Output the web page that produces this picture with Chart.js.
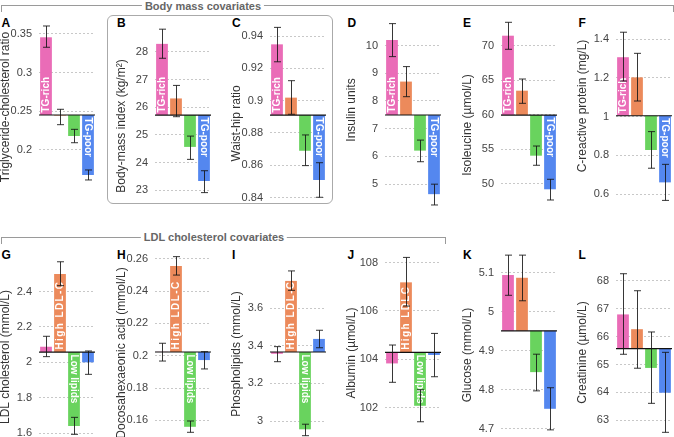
<!DOCTYPE html>
<html>
<head>
<meta charset="utf-8">
<script src="https://cdn.jsdelivr.net/npm/chart.js@4"></script>
<style>
  body { margin: 0; width: 674px; height: 437px; position: relative; overflow: hidden; background: #fff; font-family: "Liberation Sans", Arial, sans-serif; }
  canvas { position: absolute; }
  .bracket { position: absolute; border: 1px solid #9a9a9a; border-bottom: none; height: 6px; }
  .head { position: absolute; font-weight: bold; font-size: 11px; line-height: 12px; color: #666; background: #fff; padding: 0 3px; transform: translateX(-50%); white-space: nowrap; }
  .box { position: absolute; border: 1px solid #aaa; border-radius: 6px; }
  .letter { position: absolute; font-weight: bold; font-size: 12px; line-height: 12px; color: #000; }
</style>
</head>
<body>
<div class="bracket" style="left:1px;top:5px;width:671px"></div>
<div class="head" style="left:203px;top:0px">Body mass covariates</div>
<div class="bracket" style="left:1px;top:237px;width:443px"></div>
<div class="head" style="left:214px;top:231px">LDL cholesterol covariates</div>
<div class="box" style="left:107px;top:15px;width:224px;height:187px"></div>

<script>
// clusters (one bar each, same order in every panel)
const categories = ["TG-rich", "High LDL-C", "Low lipids", "TG-poor"];

const letters = ["A", "B", "C", "D", "E", "F", "G", "H", "I", "J", "K", "L"];
const yTitles = [
  "Triglyceride-cholesterol ratio", "Body-mass index (kg/m²)", "Waist-hip ratio",
  "Insulin units", "Isoleucine (µmol/L)", "C-reactive protein (mg/L)",
  "LDL cholesterol (mmol/L)", "Docosahexaeonic acid (mmol/L)", "Phospholipids (mmol/L)",
  "Albumin (µmol/L)", "Glucose (mmol/L)", "Creatinine (µmol/L)"
];

// population average (bars start here)
const baseline = [0.2452, 25.72, 0.8911, 7.495, 59.95, 1.005,
                  2.058, 0.2023, 3.3665, 104.29, 4.951, 65.57];

// cluster means
const means = [
  [0.3456, 0.2445, 0.2181, 0.1677],
  [28.29, 26.32, 24.57, 23.34],
  [0.9349, 0.9019, 0.869, 0.8509],
  [10.2, 8.70, 6.21, 4.64],
  [71.45, 63.48, 54.06, 49.19],
  [1.307, 1.203, 0.828, 0.661],
  [2.088, 2.499, 1.640, 2.0],
  [0.2024, 0.2555, 0.156, 0.1973],
  [3.357, 3.744, 2.956, 3.436],
  [103.83, 107.18, 102.08, 104.18],
  [5.094, 5.087, 4.845, 4.751],
  [66.80, 66.27, 64.88, 63.99]
];
// confidence intervals
const lower = [
  [0.3327, 0.2327, 0.2094, 0.1613],
  [27.77, 25.66, 24.12, 22.92],
  [0.9241, 0.8916, 0.8598, 0.8402],
  [9.6, 8.155, 5.81, 4.25],
  [69.48, 61.65, 52.67, 47.64],
  [1.184, 1.081, 0.734, 0.568],
  [2.032, 2.433, 1.593, 1.932],
  [0.1967, 0.2499, 0.1526, 0.1918],
  [3.315, 3.694, 2.922, 3.389],
  [103.05, 106.2, 101.42, 103.28],
  [5.042, 5.028, 4.797, 4.697],
  [65.37, 64.87, 63.61, 62.57]
];
const upper = [
  [0.3602, 0.2526, 0.2267, 0.1742],
  [28.82, 26.79, 24.96, 23.71],
  [0.9454, 0.9124, 0.8788, 0.8616],
  [10.79, 9.24, 6.59, 5.0],
  [73.39, 65.17, 55.46, 50.64],
  [1.436, 1.327, 0.923, 0.754],
  [2.147, 2.568, 1.689, 2.064],
  [0.2077, 0.2613, 0.1596, 0.2025],
  [3.395, 3.797, 2.983, 3.482],
  [104.59, 108.21, 102.74, 105.07],
  [5.145, 5.145, 4.891, 4.805],
  [68.26, 67.65, 66.17, 65.44]
];

const yTicks = [
  [0.2, 0.25, 0.3, 0.35],
  [23, 24, 25, 26, 27, 28],
  [0.84, 0.86, 0.88, 0.9, 0.92, 0.94],
  [5, 6, 7, 8, 9, 10],
  [50, 55, 60, 65, 70],
  [0.6, 0.8, 1, 1.2, 1.4],
  [1.6, 1.8, 2, 2.2, 2.4],
  [0.16, 0.18, 0.2, 0.22, 0.24, 0.26],
  [3, 3.2, 3.4, 3.6],
  [102, 104, 106, 108],
  [4.7, 4.8, 4.9, 5, 5.1],
  [63, 64, 65, 66, 67, 68]
];
const yMin = [0.1199, 22.22, 0.83108, 3.997, 45.899, 0.5081,
              1.578, 0.14969, 2.9151, 100.79, 4.6787, 62.402];
const yMax = [0.3744, 29.332, 0.95307, 11.101, 74.449, 1.5249,
              2.6458, 0.26665, 3.9188, 108.599, 5.1633, 69.183];

// text written inside bars
const tgText = ["TG-rich", null, null, "TG-poor"];
const ldlText = [null, "High LDL-C", "Low lipids", null];
const noText = [null, null, null, null];
const barText = [tgText, tgText, tgText, tgText, tgText, tgText,
                 ldlText, ldlText, ldlText, [null, "High LDLC", "Low lipids", null], noText, noText];

const colors = ["#ea6cb7", "#ec8a5b", "#69d35e", "#5487ef"];
const colX = [0, 115.5, 230.5, 346, 461.5, 577];
const titleY = [107, 126, 123.5, 110, 125, 106, 357, 353, 354, 353, 355, 352.5];
const FONT = '"Liberation Sans", Arial, sans-serif';

function makePanel(i) {
  const row = Math.floor(i / 6);
  const col = i % 6;
  const top = row ? 235 : 0;
  const h = row ? 202 : 222;

  const lab = document.createElement("div");
  lab.className = "letter";
  lab.textContent = letters[i];
  lab.style.left = (colX[col] + 1.5) + "px";
  lab.style.top = (row ? 249 : 17) + "px";
  document.body.appendChild(lab);

  const cv = document.createElement("canvas");
  cv.width = 97;
  cv.height = h;
  cv.style.left = colX[col] + "px";
  cv.style.top = top + "px";
  document.body.appendChild(cv);

  const extras = {
    id: "extras" + i,
    afterDatasetsDraw(chart) {
      const { ctx, chartArea } = chart;
      const y = chart.scales.y;
      const bars = chart.getDatasetMeta(0).data;
      const yb = y.getPixelForValue(baseline[i]);
      ctx.save();

      // labels in bars
      ctx.fillStyle = "#fff";
      ctx.font = "bold 10px " + FONT;
      ctx.textAlign = "left";
      ctx.textBaseline = "middle";
      bars.forEach((bar, k) => {
        const t = barText[i][k];
        if (!t) return;
        const up = means[i][k] > baseline[i];
        ctx.save();
        ctx.letterSpacing = t.startsWith("High") ? "1.4px" : "0px";
        ctx.translate(bar.x, yb + (up ? -2.5 : 2.5));
        ctx.rotate(up ? -Math.PI / 2 : Math.PI / 2);
        ctx.fillText(t, 0, 0.5);
        ctx.restore();
      });

      // baseline
      ctx.strokeStyle = "#111";
      ctx.lineWidth = 1.2;
      ctx.beginPath();
      ctx.moveTo(chartArea.left, yb);
      ctx.lineTo(chartArea.right, yb);
      ctx.stroke();

      // error bars
      ctx.strokeStyle = "rgba(20,20,20,0.85)";
      ctx.lineWidth = 1;
      bars.forEach((bar, k) => {
        const x = Math.round(bar.x) + 0.5;
        const y1 = y.getPixelForValue(lower[i][k]);
        const y2 = y.getPixelForValue(upper[i][k]);
        ctx.beginPath();
        ctx.moveTo(x, y1); ctx.lineTo(x, y2);
        ctx.moveTo(x - 3.5, y1); ctx.lineTo(x + 3.5, y1);
        ctx.moveTo(x - 3.5, y2); ctx.lineTo(x + 3.5, y2);
        ctx.stroke();
      });

      // y title
      ctx.fillStyle = "#333";
      ctx.font = "12px " + FONT;
      ctx.letterSpacing = "0px";
      ctx.textAlign = "center";
      ctx.translate(5.5, titleY[i] - top);
      ctx.rotate(-Math.PI / 2);
      ctx.fillText(yTitles[i], 0, 0);
      ctx.restore();
    }
  };

  new Chart(cv, {
    type: "bar",
    data: {
      labels: categories,
      datasets: [{
        data: means[i].map(m => [baseline[i], m]),
        backgroundColor: colors,
        borderWidth: 0,
        barPercentage: 0.84,
        categoryPercentage: 1
      }]
    },
    options: {
      responsive: false,
      animation: false,
      devicePixelRatio: 1,
      layout: { padding: { top: row ? 13 : 15, bottom: row ? 0 : 10, left: 0, right: 2 } },
      plugins: { legend: { display: false }, tooltip: { enabled: false } },
      scales: {
        x: { display: false },
        y: {
          min: yMin[i],
          max: yMax[i],
          afterBuildTicks: s => { s.ticks = yTicks[i].map(v => ({ value: v })); },
          afterFit: s => { s.width = 39; s.paddingTop = 0; s.paddingBottom = 0; },
          grid: { color: "#c8c8c8", drawTicks: false },
          border: { display: false, dash: [2, 2] },
          ticks: {
            padding: 7,
            color: "#444",
            font: { size: 11, family: FONT },
            callback: v => String(+Number(v).toFixed(4))
          }
        }
      }
    },
    plugins: [extras]
  });
}

for (let i = 0; i < 12; i++) makePanel(i);
</script>
</body>
</html>
